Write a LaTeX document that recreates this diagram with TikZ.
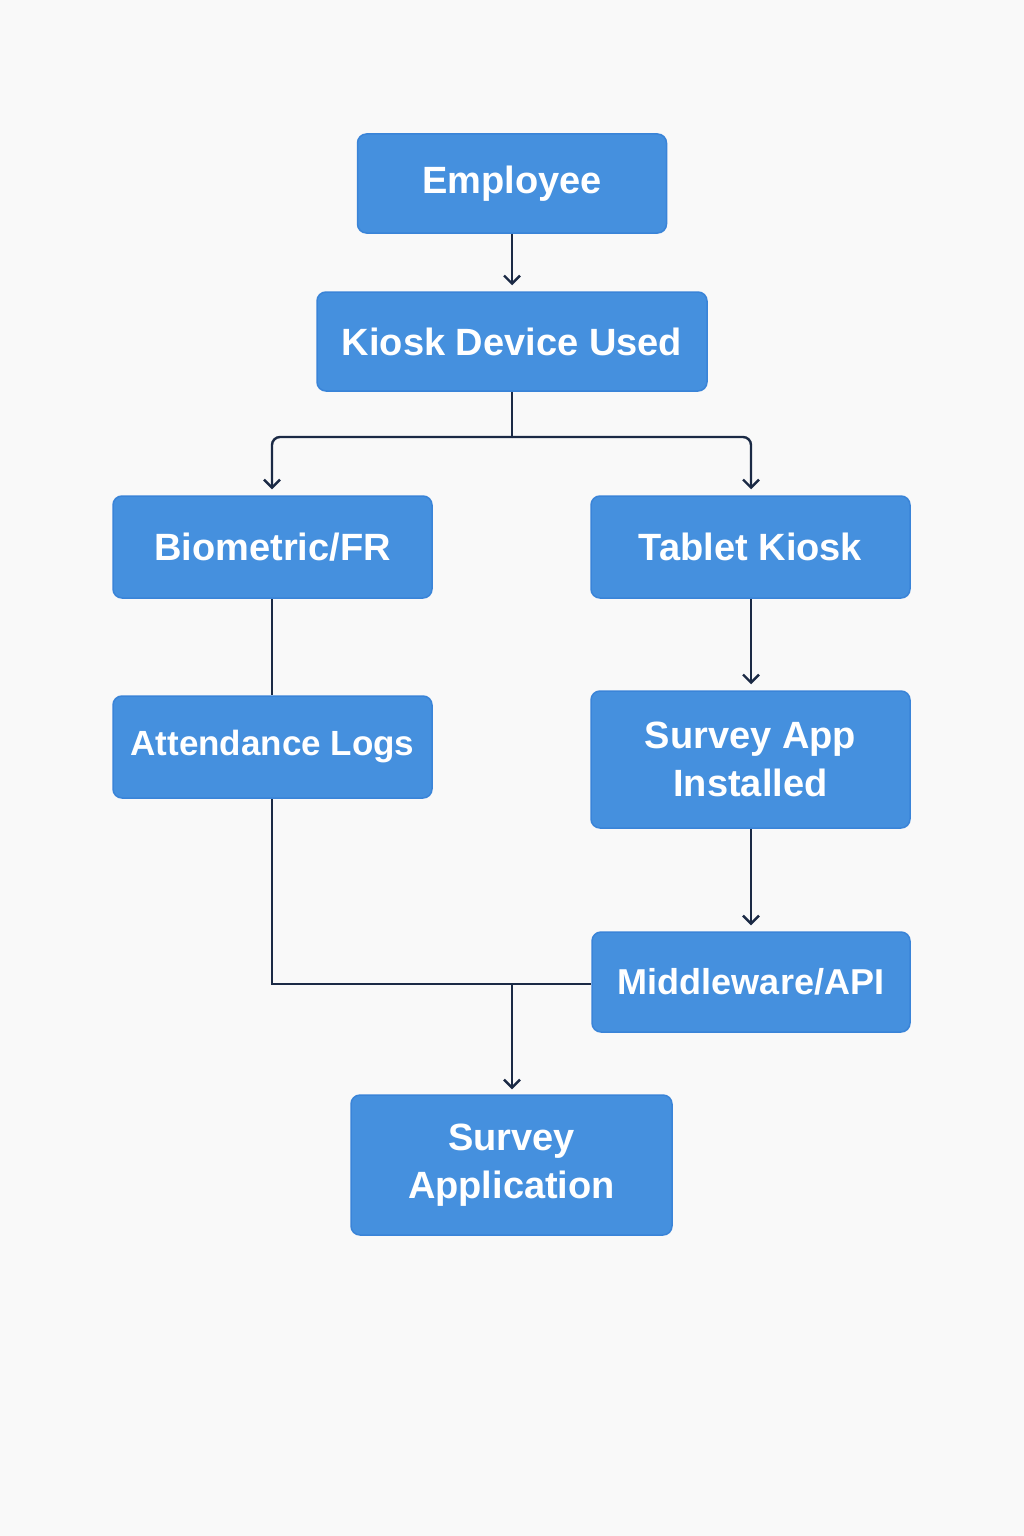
\documentclass[tikz,border=0pt]{standalone}
\usepackage{fontspec}
\setmainfont{Liberation Sans}
\usetikzlibrary{arrows.meta}
\definecolor{bg}{HTML}{F9F9F9}
\definecolor{boxfill}{HTML}{4590DE}
\definecolor{boxedge}{HTML}{3A84D8}
\definecolor{linec}{HTML}{1B2A45}
\begin{document}
\begin{tikzpicture}[x=1pt,y=-1pt,
  box/.style={draw=boxedge, line width=1.5pt, fill=boxfill, rounded corners=9pt, text=white,
    font=\fontsize{38}{48}\selectfont\bfseries, align=center, inner sep=0pt},
  conn/.style={draw=linec, line width=2.4pt},
  arr/.style={conn, -{Straight Barb[length=8pt,width=16pt]}}]
\fill[bg] (0,0) rectangle (1024,1536);
\useasboundingbox (0,0) rectangle (1024,1536);
\node[box, minimum width=309pt, minimum height=99pt] (emp) at (512,183.5) {\raisebox{-3pt}{Employee}};
\node[box, minimum width=390pt, minimum height=99pt] (kiosk) at (512,341.5) {Kiosk Device Used};
\node[box, minimum width=319pt, minimum height=102pt] (bio) at (272.5,547) {Biometric/FR};
\node[box, minimum width=319pt, minimum height=102pt] (tab) at (750.5,547) {Tablet Kiosk};
\node[box, minimum width=319pt, minimum height=102pt, font=\fontsize{35}{48}\selectfont\bfseries] (att) at (272.5,747) {Attendance Logs};
\node[box, minimum width=319pt, minimum height=137pt] (sapp) at (750.5,759.5) {Survey App\\Installed};
\node[box, minimum width=318pt, minimum height=100pt, font=\fontsize{36}{48}\selectfont\bfseries] (mid) at (751,982) {Middleware/API};
\node[box, minimum width=321pt, minimum height=140pt] (sur) at (511.5,1165) {Survey\\Application};
\coordinate (split) at (512,437);
\coordinate (join) at (512,984);
\draw[arr] (emp.south -| 512,0) -- ([yshift=6pt]kiosk.north -| 512,0);
\draw[conn] (kiosk.south -| 512,0) -- (split);
\draw[arr, rounded corners=8pt] (split) -- (272,437) -- ([yshift=6pt]bio.north -| 272,0);
\draw[arr, rounded corners=8pt] (split) -- (751,437) -- ([yshift=6pt]tab.north -| 751,0);
\draw[conn] (bio.south -| 272,0) -- (att.north -| 272,0);
\draw[arr] (tab.south -| 751,0) -- ([yshift=6pt]sapp.north -| 751,0);
\draw[arr] (sapp.south -| 751,0) -- ([yshift=6pt]mid.north -| 751,0);
\draw[conn] (att.south -| 272,0) -- (272,984) -- (mid.west |- 0,984);
\draw[arr] (join) -- ([yshift=5pt]sur.north -| 512,0);
\end{tikzpicture}
\end{document}
